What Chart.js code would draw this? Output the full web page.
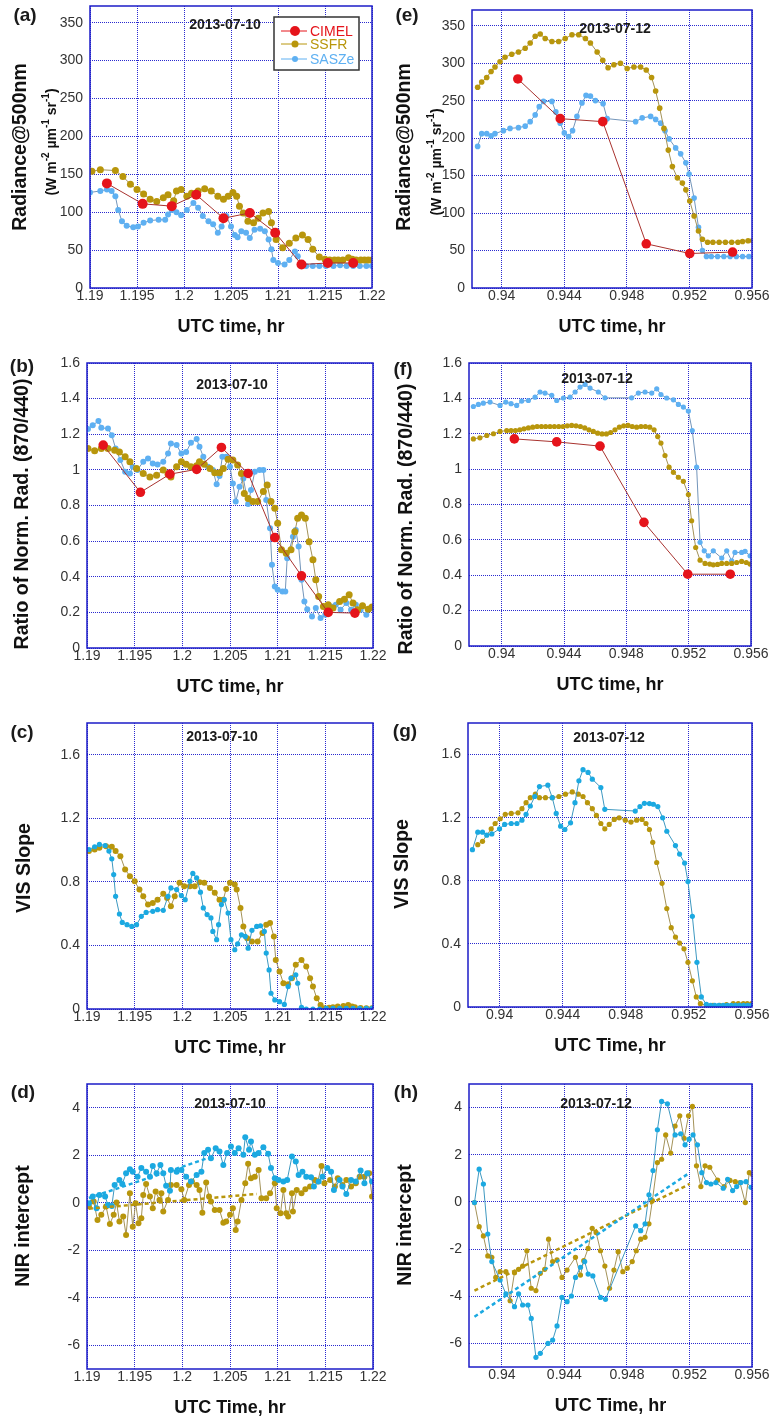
<!DOCTYPE html>
<html>
<head>
<meta charset="utf-8">
<script src="https://cdn.jsdelivr.net/npm/chart.js@4.4.0/dist/chart.umd.min.js"></script>
<style>
  body { margin: 0; background: #fff; overflow: hidden; }
  #page { position: relative; width: 771px; height: 1421px; overflow: hidden; }
  #page canvas { position: absolute; }
</style>
</head>
<body>
<div id="page"></div>
<script>
// ---- tick labels ----
const leftTicks = [1.19, 1.195, 1.2, 1.205, 1.21, 1.215, 1.22];
const rightTicks = [0.94, 0.944, 0.948, 0.952, 0.956];
const radTicks = [0, 50, 100, 150, 200, 250, 300, 350];
const ratioTicks = [0, 0.2, 0.4, 0.6, 0.8, 1, 1.2, 1.4, 1.6];
const slopeTicks = [0, 0.4, 0.8, 1.2, 1.6];
const nirTicks = [-6, -4, -2, 0, 2, 4];

// ---- (a) radiance 2013-07-10 ----
const aSsfrX = [1.1902,1.1911,1.1927,1.1935,1.1943,1.1950,1.1957,1.1964,1.1971,1.1978,1.1983,1.1989,1.1992,1.1997,1.2003,1.2008,1.2015,1.2022,1.2029,1.2036,1.2042,1.2047,1.2052,1.2056,1.2059,1.2063,1.2068,1.2074,1.2079,1.2084,1.2090,1.2093,1.2098,1.2105,1.2112,1.2119,1.2126,1.2132,1.2137,1.2144,1.2150,1.2155,1.2160,1.2164,1.2169,1.2175,1.2179,1.2183,1.2188,1.2192,1.2196,1.2200];
const aSsfrY = [154,156,155,147,137,130,124,117,114,119,123,115,128,130,121,125,128,131,128,121,117,121,126,121,108,99,88,86,92,99,101,86,64,53,59,66,70,64,51,41,38,37,37,37,37,40,38,37,37,37,37,37];
const aSasX = [1.1900,1.1911,1.1918,1.1923,1.1927,1.1930,1.1934,1.1939,1.1946,1.1951,1.1957,1.1964,1.1973,1.1980,1.1983,1.1987,1.1992,1.1997,1.2003,1.2010,1.2015,1.2020,1.2026,1.2031,1.2036,1.2040,1.2045,1.2050,1.2054,1.2057,1.2061,1.2066,1.2070,1.2075,1.2081,1.2086,1.2090,1.2093,1.2095,1.2100,1.2107,1.2112,1.2118,1.2121,1.2125,1.2130,1.2137,1.2144,1.2151,1.2159,1.2166,1.2173,1.2180,1.2187,1.2194,1.2200];
const aSasY = [126,128,130,128,121,103,88,82,80,81,86,89,90,90,97,103,100,96,103,112,106,95,88,84,73,81,95,81,70,67,75,73,66,77,78,75,64,51,37,33,31,37,48,42,33,29,29,29,29,29,30,29,29,29,29,29];
const aCimX = [1.1918,1.1956,1.1987,1.2013,1.2042,1.2070,1.2097,1.2125,1.2153,1.2180];
const aCimY = [138,111,108,123,92,99,73,31,33,33];

// ---- (e) radiance 2013-07-12 ----
const eSsfrX = [0.93846,0.93872,0.93904,0.93932,0.93957,0.93989,0.94021,0.94064,0.94107,0.94150,0.94182,0.94214,0.94246,0.94278,0.94321,0.94364,0.94406,0.94449,0.94492,0.94535,0.94567,0.94610,0.94646,0.94680,0.94717,0.94759,0.94802,0.94845,0.94888,0.94924,0.94958,0.94984,0.95010,0.95037,0.95065,0.95091,0.95123,0.95155,0.95177,0.95202,0.95230,0.95258,0.95283,0.95316,0.95350,0.95390,0.95430,0.95470,0.95510,0.95540,0.95575,0.95604];
const eSsfrY = [268,275,281,289,295,302,308,312,315,320,327,336,339,333,329,329,333,338,338,333,327,315,304,294,298,300,293,295,295,291,281,263,240,213,184,162,147,140,131,116,96,76,65,61,61,61,61,61,61,62,63,63];
const eSasX = [0.93846,0.93872,0.93904,0.93932,0.93957,0.94011,0.94053,0.94107,0.94150,0.94182,0.94214,0.94240,0.94267,0.94321,0.94346,0.94374,0.94400,0.94428,0.94453,0.94481,0.94513,0.94539,0.94567,0.94599,0.94648,0.94674,0.94856,0.94898,0.94952,0.94984,0.95016,0.95044,0.95070,0.95112,0.95144,0.95177,0.95198,0.95230,0.95258,0.95283,0.95309,0.95340,0.95380,0.95420,0.95460,0.95500,0.95540,0.95580];
const eSasY = [189,206,206,203,206,210,213,214,216,222,231,242,249,249,235,220,207,202,210,229,247,257,256,250,246,226,222,227,229,225,220,210,199,187,179,167,152,120,81,50,42,42,42,42,42,42,42,42];
const eCimX = [0.94103,0.94374,0.94646,0.94924,0.95202,0.95476];
const eCimY = [279,226,222,59,46,48];

// ---- (b) ratio 2013-07-10 ----
const bSsfrX = [1.1901,1.1908,1.1915,1.1922,1.1929,1.1934,1.1940,1.1945,1.1952,1.1959,1.1966,1.1973,1.1980,1.1985,1.1988,1.1994,1.1999,1.2004,1.2009,1.2015,1.2018,1.2023,1.2029,1.2034,1.2039,1.2043,1.2048,1.2053,1.2058,1.2062,1.2065,1.2069,1.2074,1.2079,1.2085,1.2089,1.2093,1.2097,1.2100,1.2104,1.2109,1.2114,1.2118,1.2121,1.2125,1.2129,1.2133,1.2137,1.2140,1.2143,1.2148,1.2153,1.2158,1.2165,1.2170,1.2175,1.2179,1.2184,1.2189,1.2195,1.2199];
const bSsfrY = [1.12,1.107,1.12,1.12,1.11,1.10,1.074,1.046,1.008,0.98,0.96,0.97,0.999,0.976,0.96,1.018,1.046,1.032,1.018,1.023,1.046,1.032,1.008,0.984,0.984,1.008,1.059,1.055,1.027,0.98,0.868,0.84,0.822,0.822,0.878,0.915,0.822,0.784,0.70,0.551,0.532,0.551,0.653,0.728,0.747,0.728,0.597,0.495,0.383,0.289,0.233,0.243,0.224,0.261,0.274,0.299,0.252,0.215,0.237,0.218,0.23];
const bSasX = [1.1901,1.1906,1.1912,1.1915,1.1922,1.1926,1.1930,1.1935,1.1940,1.1945,1.1948,1.1953,1.1959,1.1964,1.1969,1.1974,1.1980,1.1985,1.1988,1.1994,1.1999,1.2004,1.2009,1.2015,1.2018,1.2022,1.2027,1.2032,1.2036,1.2039,1.2042,1.2046,1.2050,1.2053,1.2056,1.2060,1.2064,1.2069,1.2072,1.2076,1.2081,1.2085,1.2088,1.2092,1.2094,1.2097,1.2100,1.2105,1.2108,1.2110,1.2116,1.2119,1.2122,1.2125,1.2128,1.2131,1.2136,1.2140,1.2145,1.2150,1.2156,1.2161,1.2166,1.2172,1.2177,1.2182,1.2187,1.2193,1.2198];
const bSasY = [1.23,1.25,1.275,1.236,1.232,1.195,1.12,1.055,0.99,0.98,1.018,1.00,1.046,1.064,1.036,1.03,1.046,1.092,1.148,1.139,1.092,1.10,1.152,1.173,1.13,1.074,1.018,0.999,0.919,0.965,1.074,1.074,1.018,0.924,0.822,0.905,0.952,0.808,0.887,0.99,0.999,0.999,0.831,0.672,0.467,0.345,0.327,0.317,0.317,0.504,0.625,0.663,0.57,0.383,0.261,0.218,0.177,0.224,0.168,0.187,0.233,0.243,0.215,0.252,0.215,0.243,0.215,0.187,0.224];
const bCimX = [1.1917,1.1956,1.1987,1.2015,1.2041,1.2069,1.2097,1.2125,1.2153,1.2181];
const bCimY = [1.139,0.874,0.976,1.003,1.126,0.98,0.62,0.405,0.20,0.196];

// ---- (f) ratio 2013-07-12 ----
const fSsfrX = [0.93818,0.9386,0.93904,0.93947,0.93989,0.94032,0.9406,0.94088,0.94116,0.94143,0.94171,0.94199,0.94227,0.94255,0.94282,0.9431,0.94338,0.94366,0.94394,0.94421,0.94449,0.94477,0.94505,0.94533,0.9456,0.94588,0.94616,0.94644,0.94672,0.94699,0.94727,0.94755,0.94783,0.94811,0.94838,0.94866,0.94894,0.94922,0.9495,0.94978,0.95001,0.95022,0.95048,0.95074,0.95102,0.95134,0.95166,0.95198,0.95219,0.95245,0.95273,0.95305,0.95335,0.95358,0.95385,0.95412,0.95444,0.95476,0.95508,0.9554,0.9557,0.95594];
const fSsfrY = [1.171,1.177,1.19,1.20,1.213,1.218,1.218,1.218,1.222,1.228,1.233,1.237,1.241,1.241,1.241,1.241,1.241,1.241,1.241,1.245,1.247,1.245,1.241,1.233,1.222,1.213,1.203,1.199,1.199,1.207,1.222,1.237,1.245,1.247,1.241,1.237,1.241,1.241,1.237,1.222,1.184,1.147,1.077,1.011,0.982,0.954,0.931,0.856,0.708,0.557,0.485,0.467,0.463,0.459,0.461,0.467,0.467,0.467,0.472,0.478,0.472,0.463];
const fSasX = [0.93818,0.9385,0.93882,0.93925,0.93989,0.94026,0.94060,0.94096,0.94128,0.94171,0.94214,0.94246,0.94278,0.94321,0.94353,0.94396,0.94439,0.94471,0.94503,0.94535,0.94567,0.94620,0.94663,0.94834,0.94877,0.94920,0.94963,0.94995,0.95022,0.95059,0.95102,0.95134,0.95166,0.95198,0.95223,0.95251,0.95273,0.95300,0.95326,0.95358,0.95412,0.95444,0.95476,0.95497,0.95540,0.95562,0.95594];
const fSasY = [1.354,1.366,1.373,1.379,1.36,1.379,1.37,1.36,1.385,1.388,1.407,1.436,1.43,1.417,1.388,1.402,1.407,1.436,1.464,1.479,1.458,1.436,1.403,1.403,1.43,1.436,1.43,1.454,1.422,1.402,1.392,1.366,1.351,1.328,1.218,1.011,0.586,0.538,0.51,0.538,0.497,0.538,0.482,0.529,0.529,0.535,0.51];
const fCimX = [0.94081,0.94353,0.94631,0.94913,0.95194,0.95467];
const fCimY = [1.171,1.154,1.13,0.699,0.406,0.406];

// ---- (c) VIS slope 2013-07-10 ----
const cSsfrX = [1.1902,1.1908,1.1913,1.1920,1.1926,1.1930,1.1935,1.1940,1.1945,1.1950,1.1955,1.1959,1.1964,1.1969,1.1974,1.1980,1.1984,1.1988,1.1992,1.1997,1.2002,1.2008,1.2013,1.2018,1.2023,1.2029,1.2034,1.2039,1.2043,1.2046,1.2050,1.2055,1.2057,1.2061,1.2064,1.2068,1.2073,1.2079,1.2084,1.2088,1.2092,1.2096,1.2098,1.2102,1.2106,1.2111,1.2115,1.2119,1.2125,1.2130,1.2134,1.2137,1.2141,1.2145,1.2149,1.2154,1.2158,1.2163,1.2169,1.2174,1.2178,1.2181,1.2187,1.2193,1.2199];
const cSsfrY = [0.994,1.004,1.015,1.025,1.021,0.994,0.962,0.878,0.836,0.804,0.752,0.709,0.657,0.667,0.688,0.726,0.699,0.646,0.709,0.794,0.773,0.773,0.773,0.798,0.794,0.762,0.731,0.688,0.688,0.756,0.794,0.783,0.752,0.636,0.52,0.446,0.425,0.425,0.478,0.531,0.541,0.457,0.309,0.236,0.162,0.156,0.194,0.278,0.309,0.267,0.194,0.141,0.067,0.025,0.004,0.008,0.011,0.015,0.019,0.025,0.015,0.011,0.006,0.004,0.004];
const cSasX = [1.1902,1.1908,1.1913,1.1919,1.1923,1.1926,1.1928,1.1930,1.1934,1.1937,1.1942,1.1947,1.1952,1.1957,1.1962,1.1969,1.1974,1.1980,1.1985,1.1988,1.1994,1.1999,1.2003,1.2008,1.2011,1.2015,1.2019,1.2022,1.2026,1.2030,1.2032,1.2036,1.2038,1.2041,1.2044,1.2048,1.2051,1.2055,1.2058,1.2062,1.2066,1.2069,1.2073,1.2078,1.2082,1.2086,1.2088,1.2091,1.2093,1.2097,1.2102,1.2107,1.2111,1.2114,1.2119,1.2121,1.2125,1.2130,1.2137,1.2144,1.2151,1.2158,1.2165,1.2172,1.2179,1.2186,1.2193,1.2199];
const cSasY = [1.004,1.021,1.036,1.029,0.994,0.945,0.846,0.709,0.598,0.545,0.531,0.52,0.531,0.583,0.608,0.615,0.625,0.621,0.709,0.762,0.752,0.714,0.688,0.804,0.853,0.825,0.735,0.636,0.594,0.573,0.488,0.436,0.531,0.657,0.688,0.604,0.436,0.373,0.41,0.467,0.457,0.383,0.495,0.52,0.524,0.488,0.352,0.246,0.099,0.057,0.046,0.029,0.141,0.194,0.215,0.162,0.011,0,0,0,0.004,0.004,0.004,0.004,0.004,0.004,0.004,0.004];

// ---- (g) VIS slope 2013-07-12 ----
const gSsfrX = [0.93862,0.93892,0.93947,0.93972,0.94004,0.94036,0.94074,0.94117,0.94142,0.94168,0.94195,0.94227,0.94253,0.94291,0.94334,0.94376,0.94418,0.94461,0.94499,0.94529,0.94557,0.94588,0.94614,0.94642,0.94667,0.94695,0.94727,0.94758,0.94797,0.94833,0.94869,0.94903,0.94928,0.94950,0.94971,0.94996,0.95030,0.95060,0.95088,0.95115,0.95141,0.95169,0.95194,0.95222,0.95247,0.95273,0.95311,0.95353,0.95396,0.95438,0.95481,0.95513,0.95545,0.95570,0.95598];
const gSsfrY = [1.029,1.05,1.129,1.163,1.193,1.221,1.227,1.231,1.257,1.295,1.327,1.349,1.327,1.327,1.327,1.334,1.349,1.363,1.349,1.334,1.295,1.257,1.214,1.163,1.129,1.157,1.189,1.199,1.184,1.172,1.184,1.189,1.163,1.125,1.044,0.916,0.784,0.624,0.503,0.443,0.405,0.369,0.283,0.166,0.064,0.021,0.011,0.011,0.011,0.016,0.021,0.021,0.021,0.021,0.021];
const gSasX = [0.93828,0.93862,0.93892,0.93919,0.93951,0.94,0.94032,0.94074,0.94110,0.94142,0.94168,0.94195,0.94223,0.94253,0.94306,0.94334,0.94359,0.94387,0.94414,0.94450,0.94478,0.94503,0.94529,0.94561,0.94588,0.94642,0.94667,0.94860,0.94890,0.94918,0.94950,0.94975,0.95003,0.95034,0.95060,0.95115,0.95141,0.95173,0.95194,0.95222,0.95251,0.95279,0.95311,0.95338,0.95364,0.9539,0.95417,0.95443,0.95469,0.95495,0.95521,0.95547,0.95573,0.95598];
const gSasY = [0.997,1.108,1.108,1.089,1.097,1.129,1.157,1.163,1.163,1.184,1.221,1.274,1.334,1.397,1.406,1.327,1.227,1.146,1.125,1.167,1.295,1.434,1.504,1.487,1.444,1.391,1.253,1.242,1.27,1.291,1.289,1.285,1.27,1.199,1.114,1.023,0.969,0.912,0.795,0.575,0.283,0.064,0.017,0.011,0.011,0.011,0.011,0.011,0.011,0.011,0.011,0.011,0.011,0.011];

// ---- (d) NIR intercept 2013-07-10 ----
const dSsfrX = [1.1902,1.1907,1.1911,1.1915,1.1920,1.1924,1.1928,1.1931,1.1934,1.1938,1.1941,1.1945,1.1948,1.1951,1.1954,1.1957,1.1959,1.1962,1.1966,1.1969,1.1972,1.1976,1.1978,1.1980,1.1985,1.1988,1.1994,1.1999,1.2002,1.2007,1.2010,1.2015,1.2018,1.2021,1.2025,1.2028,1.2030,1.2034,1.2039,1.2043,1.2046,1.2050,1.2053,1.2056,1.2058,1.2062,1.2066,1.2069,1.2072,1.2076,1.2080,1.2083,1.2088,1.2092,1.2097,1.2099,1.2103,1.2106,1.2109,1.2111,1.2115,1.2116,1.2120,1.2125,1.2129,1.2134,1.2139,1.2142,1.2146,1.2149,1.2155,1.2160,1.2163,1.2168,1.2172,1.2177,1.2182,1.2186,1.2191,1.2196,1.2199];
const dSsfrY = [-0.16,0.05,-0.73,-0.51,-0.16,-0.89,-0.51,0.01,-0.79,-0.58,-1.36,0.40,-1.01,-0.02,-0.86,-0.65,0.33,0.79,0.26,-0.23,0.47,0.12,0.40,-0.37,0.12,0.75,0.75,0.57,0.12,0.75,0.89,0.75,0.54,-0.42,0.85,0.26,0.05,-0.30,-0.30,-0.84,-0.79,-0.51,-0.23,-1.15,-0.79,0.12,0.82,1.64,1.03,1.10,1.38,0.19,0.19,0.40,0.82,-0.23,-0.44,0.54,-0.44,-0.58,0.40,-0.37,0.54,0.40,0.57,0.68,0.96,0.89,1.55,0.82,0.96,0.68,1.03,0.75,0.96,0.68,0.82,1.10,1.10,1.24,0.26];
const dSasX = [1.1902,1.1906,1.1910,1.1913,1.1919,1.1922,1.1926,1.1929,1.1934,1.1937,1.1941,1.1945,1.1948,1.1953,1.1957,1.1962,1.1966,1.1969,1.1973,1.1977,1.1980,1.1983,1.1987,1.1988,1.1994,1.1999,1.2004,1.2009,1.2015,1.2020,1.2023,1.2027,1.2030,1.2035,1.2039,1.2043,1.2047,1.2051,1.2055,1.2059,1.2064,1.2066,1.2070,1.2072,1.2076,1.2080,1.2085,1.2090,1.2093,1.2097,1.2101,1.2106,1.2110,1.2115,1.2119,1.2122,1.2126,1.2130,1.2135,1.2138,1.2143,1.2147,1.2152,1.2156,1.2159,1.2165,1.2168,1.2172,1.2177,1.2182,1.2187,1.2191,1.2194,1.2199];
const dSasY = [-0.02,0.26,-0.23,0.33,0.26,-0.09,-0.14,0.75,0.96,0.79,1.24,1.41,1.31,1.10,1.46,1.31,1.10,1.55,1.24,1.59,1.24,0.72,0.51,1.38,1.31,1.38,1.10,0.89,1.17,1.31,2.09,2.23,1.87,2.30,2.16,1.59,2.09,2.37,2.09,2.30,2.02,2.76,2.23,2.58,2.02,2.09,2.34,2.06,1.46,1.03,0.96,0.89,0.96,1.95,1.74,1.17,1.31,1.10,1.07,0.68,0.89,1.10,1.46,1.31,0.54,0.96,0.68,0.37,0.96,0.89,1.36,0.82,1.24,0.89];
const dFitSasX = [1.1902, 1.2032];
const dFitSasY = [0.2, 1.95];
const dFitSsfrX = [1.1902, 1.2078];
const dFitSsfrY = [-0.25, 0.37];

// ---- (h) NIR intercept 2013-07-12 ----
const hSsfrX = [0.93825,0.93855,0.93882,0.9391,0.93936,0.93961,0.93989,0.94026,0.94053,0.94081,0.94107,0.94133,0.9416,0.94188,0.94218,0.94246,0.94274,0.94299,0.94325,0.94353,0.94385,0.94417,0.94471,0.94503,0.94524,0.94552,0.94578,0.94603,0.94631,0.94659,0.94689,0.94717,0.94744,0.94774,0.94802,0.94834,0.9486,0.94888,0.94916,0.94941,0.94963,0.94995,0.95022,0.95048,0.9508,0.95108,0.95138,0.95166,0.95194,0.95219,0.95245,0.95273,0.953,0.9533,0.9538,0.95422,0.95459,0.95493,0.95523,0.95557,0.95583,0.95604];
const hSsfrY = [-0.03,-1.05,-1.44,-2.29,-2.35,-3.20,-2.96,-2.96,-4.19,-3.0,-2.86,-2.72,-2.07,-3.66,-3.76,-3.03,-2.86,-1.58,-2.53,-2.46,-3.20,-2.89,-2.35,-3.10,-2.49,-1.97,-1.12,-1.30,-2.07,-2.72,-3.66,-2.89,-2.11,-2.96,-2.81,-2.53,-2.07,-1.58,-1.50,-0.93,0.06,1.67,1.81,2.84,2.07,3.22,3.65,2.70,3.65,4.05,1.53,0.65,1.53,1.47,0.93,0.65,0.91,0.86,0.82,-0.03,1.24,1.15];
const hSasX = [0.93825,0.93855,0.93882,0.9391,0.93936,0.93989,0.94026,0.94081,0.94107,0.94133,0.94167,0.94188,0.94218,0.94246,0.94295,0.94325,0.94353,0.94385,0.94417,0.94445,0.94471,0.94503,0.9453,0.94552,0.94582,0.94631,0.94663,0.94856,0.94888,0.94916,0.94941,0.94967,0.94995,0.95022,0.95059,0.95108,0.95144,0.95172,0.95198,0.95223,0.95251,0.95279,0.95309,0.95337,0.95369,0.95416,0.95444,0.95476,0.95502,0.95529,0.95562,0.95594];
const hSasY = [-0.03,1.39,0.76,-1.36,-2.53,-3.31,-3.90,-4.44,-3.90,-4.37,-4.37,-4.94,-6.59,-6.42,-6.0,-5.86,-5.26,-4.05,-4.23,-3.99,-3.20,-2.77,-2.53,-3.06,-3.14,-4.05,-4.13,-1.02,-1.22,-0.93,0.30,1.33,3.06,4.26,4.16,2.84,2.89,2.42,2.66,2.84,2.42,1.24,0.82,0.76,0.82,0.58,0.96,0.48,0.65,0.82,0.86,0.62];
const hFitX = [0.93825, 0.95202];
const hFitSasY = [-4.87, 1.24];
const hFitSsfrY = [-3.76, 0.76];

// ---- look ----
const FONT = '"Liberation Sans", Arial, Helvetica, sans-serif';
Chart.defaults.font.family = FONT;
Chart.defaults.color = '#333';

const RED = '#e5141b', RED_LINE = '#a8322e';
const GOLD = '#b8960c', GOLD_LINE = '#a39258';
const SKY = '#5eb0f2', SKY_LINE = '#7395ba';
const CYAN = '#1ba9e1', CYAN_LINE = '#3d98c0';
const GRID = '#2a2ad0', FRAME = '#1c1cc8';

function pts(xs, ys) { return xs.map((x, i) => ({ x: x, y: ys[i] })); }

function series(label, xs, ys, dot, line, r) {
  return {
    label: label, data: pts(xs, ys), showLine: true, tension: 0,
    borderColor: line, borderWidth: 1, backgroundColor: dot,
    pointBackgroundColor: dot, pointBorderWidth: 0,
    pointRadius: r, pointHoverRadius: r, inLegend: true
  };
}

function fitLine(xs, ys, color) {
  return {
    label: 'fit', data: pts(xs, ys), showLine: true, tension: 0,
    borderColor: color, borderWidth: 2.5, borderDash: [4, 3], pointRadius: 0
  };
}

function fmt(v) { return String(+Number(v).toFixed(4)); }

// superscripted unit line, rotated like the y title
function drawUnits(ctx, cx, cy) {
  const parts = [['(W m', 0], ['-2', 1], [' \u00b5m', 0], ['-1', 1], [' sr', 0], ['-1', 1], [')', 0]];
  const big = 'bold 14px ' + FONT, small = 'bold 10px ' + FONT;
  ctx.save();
  ctx.translate(cx, cy);
  ctx.rotate(-Math.PI / 2);
  let total = 0;
  parts.forEach(p => { ctx.font = p[1] ? small : big; total += ctx.measureText(p[0]).width; });
  let x = -total / 2;
  ctx.textAlign = 'left';
  ctx.textBaseline = 'middle';
  ctx.fillStyle = '#111';
  parts.forEach(p => {
    ctx.font = p[1] ? small : big;
    ctx.fillText(p[0], x, p[1] ? -6 : 0);
    x += ctx.measureText(p[0]).width;
  });
  ctx.restore();
}

function drawLegend(chart, box) {
  const ctx = chart.ctx;
  ctx.fillStyle = '#fff';
  ctx.fillRect(box.x, box.y, box.w, box.h);
  ctx.strokeStyle = '#333';
  ctx.lineWidth = 1.5;
  ctx.strokeRect(box.x, box.y, box.w, box.h);
  const items = chart.data.datasets.filter(d => d.inLegend);
  const rows = [14, 27, 42];
  ctx.font = '14px ' + FONT;
  ctx.textAlign = 'left';
  ctx.textBaseline = 'middle';
  items.forEach((d, i) => {
    const y = box.y + rows[i];
    ctx.strokeStyle = d.pointBackgroundColor;
    ctx.lineWidth = 1;
    ctx.beginPath();
    ctx.moveTo(box.x + 7, y);
    ctx.lineTo(box.x + 33, y);
    ctx.stroke();
    ctx.fillStyle = d.pointBackgroundColor;
    ctx.beginPath();
    ctx.arc(box.x + 21, y, d.pointRadius, 0, Math.PI * 2);
    ctx.fill();
    ctx.fillText(d.label, box.x + 36, y + 1);
  });
}

const decor = {
  id: 'decor',
  afterDraw(chart, args, o) {
    const { ctx, chartArea: a } = chart;
    const ox = o.ox, oy = o.oy;
    ctx.save();
    ctx.strokeStyle = FRAME;
    ctx.lineWidth = 1.5;
    ctx.strokeRect(a.left, a.top, a.right - a.left, a.bottom - a.top);
    ctx.fillStyle = '#1a1a1a';
    ctx.textAlign = 'center';
    ctx.textBaseline = 'middle';
    ctx.font = 'bold 19px ' + FONT;
    ctx.fillText(o.letter[0], o.letter[1] - ox, o.letter[2] - oy);
    ctx.font = 'bold 14px ' + FONT;
    ctx.fillText(o.date[0], o.date[1] - ox, o.date[2] - oy);
    // rotated y-axis title
    ctx.save();
    ctx.translate(o.ytitle[1] - ox, o.ytitle[2] - oy);
    ctx.rotate(-Math.PI / 2);
    ctx.fillStyle = '#111';
    ctx.font = 'bold 19.5px ' + FONT;
    ctx.fillText(o.ytitle[0], 0, 0);
    ctx.restore();
    if (o.units) drawUnits(ctx, o.units[0] - ox, o.units[1] - oy);
    if (o.legend) drawLegend(chart, { x: o.legend[0] - ox, y: o.legend[1] - oy, w: o.legend[2], h: o.legend[3] });
    ctx.restore();
  }
};

const COLS = { left: { x: 0, w: 400 }, right: { x: 385, w: 400 } };
const ROWS = [{ y: -20, h: 365 }, { y: 345, h: 355 }, { y: 700, h: 360 }, { y: 1060, h: 361 }];

function panel(p) {
  const col = COLS[p.col], row = ROWS[p.row];
  const cv = document.createElement('canvas');
  cv.width = col.w; cv.height = row.h;
  cv.style.left = col.x + 'px'; cv.style.top = row.y + 'px';
  cv.style.width = col.w + 'px'; cv.style.height = row.h + 'px';
  document.getElementById('page').appendChild(cv);

  const xLh = 18 * 1.2;
  const bottomH = row.y + row.h - p.plot.B;
  const leftW = p.plot.L - col.x;

  new Chart(cv, {
    type: 'scatter',
    data: { datasets: p.datasets },
    options: {
      responsive: false, animation: false, devicePixelRatio: 1,
      layout: { padding: { left: 0, bottom: 0, top: p.plot.T - row.y, right: col.x + col.w - p.plot.R } },
      plugins: {
        legend: { display: false }, tooltip: { enabled: false },
        decor: Object.assign({ ox: col.x, oy: row.y }, p.decor)
      },
      scales: {
        x: {
          type: 'linear', min: p.x.min, max: p.x.max,
          afterBuildTicks: s => { s.ticks = p.x.ticks.map(v => ({ value: v })); },
          afterFit: s => { s.height = bottomH; },
          ticks: { autoSkip: false, maxRotation: 0, padding: 0, color: '#333', font: { size: 14 }, callback: fmt },
          grid: { color: GRID, lineWidth: 1, drawTicks: false },
          border: { display: false, dash: [1, 1] },
          title: {
            display: true, text: p.x.title, color: '#111',
            font: { size: 18, weight: 'bold' },
            padding: { top: 0, bottom: row.y + row.h - (p.plot.B + 39) - xLh / 2 }
          }
        },
        y: {
          type: 'linear', min: p.y.min, max: p.y.max,
          afterBuildTicks: s => { s.ticks = p.y.ticks.map(v => ({ value: v })); },
          afterFit: s => { s.width = leftW; },
          ticks: { autoSkip: false, padding: 7, color: '#333', font: { size: 14 }, callback: fmt },
          grid: { color: GRID, lineWidth: 1, drawTicks: false },
          border: { display: false, dash: [1, 1] },
          title: { display: false }
        }
      }
    },
    plugins: [decor]
  });
}

// ---- panels ----
panel({
  col: 'left', row: 0, plot: { L: 90, R: 372, T: 6, B: 288 },
  x: { min: 1.19, max: 1.22, ticks: leftTicks, title: 'UTC time, hr' },
  y: { min: 0, max: 372, ticks: radTicks },
  datasets: [
    series('CIMEL', aCimX, aCimY, RED, RED_LINE, 5),
    series('SSFR', aSsfrX, aSsfrY, GOLD, GOLD_LINE, 3.5),
    series('SASZe', aSasX, aSasY, SKY, SKY_LINE, 3)
  ],
  decor: { letter: ['(a)', 25, 16], date: ['2013-07-10', 225, 25], ytitle: ['Radiance@500nm', 21, 147],
           units: [52, 142], legend: [274, 17, 85, 53] }
});

panel({
  col: 'right', row: 0, plot: { L: 472, R: 752, T: 10, B: 288 },
  x: { min: 0.9381, max: 0.956, ticks: rightTicks, title: 'UTC time, hr' },
  y: { min: 0, max: 371, ticks: radTicks },
  datasets: [
    series('CIMEL', eCimX, eCimY, RED, RED_LINE, 4.8),
    series('SSFR', eSsfrX, eSsfrY, GOLD, GOLD_LINE, 2.8),
    series('SASZe', eSasX, eSasY, SKY, SKY_LINE, 2.8)
  ],
  decor: { letter: ['(e)', 407, 16], date: ['2013-07-12', 615, 29], ytitle: ['Radiance@500nm', 405, 147],
           units: [437, 162] }
});

panel({
  col: 'left', row: 1, plot: { L: 87, R: 373, T: 363, B: 648 },
  x: { min: 1.19, max: 1.22, ticks: leftTicks, title: 'UTC time, hr' },
  y: { min: 0, max: 1.6, ticks: ratioTicks },
  datasets: [
    series('CIMEL', bCimX, bCimY, RED, RED_LINE, 4.8),
    series('SSFR', bSsfrX, bSsfrY, GOLD, GOLD_LINE, 3.5),
    series('SASZe', bSasX, bSasY, SKY, SKY_LINE, 3)
  ],
  decor: { letter: ['(b)', 22, 367], date: ['2013-07-10', 232, 385],
           ytitle: ['Ratio of Norm. Rad. (870/440)', 22.5, 514] }
});

panel({
  col: 'right', row: 1, plot: { L: 469, R: 751, T: 363, B: 646 },
  x: { min: 0.9379, max: 0.956, ticks: rightTicks, title: 'UTC time, hr' },
  y: { min: 0, max: 1.6, ticks: ratioTicks },
  datasets: [
    series('CIMEL', fCimX, fCimY, RED, RED_LINE, 4.8),
    series('SSFR', fSsfrX, fSsfrY, GOLD, GOLD_LINE, 2.6),
    series('SASZe', fSasX, fSasY, SKY, SKY_LINE, 2.6)
  ],
  decor: { letter: ['(f)', 403, 370], date: ['2013-07-12', 597, 379],
           ytitle: ['Ratio of Norm. Rad. (870/440)', 407, 519] }
});

panel({
  col: 'left', row: 2, plot: { L: 87, R: 373, T: 723, B: 1009 },
  x: { min: 1.19, max: 1.22, ticks: leftTicks, title: 'UTC Time, hr' },
  y: { min: 0, max: 1.8, ticks: slopeTicks },
  datasets: [
    series('SASZe', cSasX, cSasY, CYAN, CYAN_LINE, 2.6),
    series('SSFR', cSsfrX, cSsfrY, GOLD, GOLD_LINE, 3)
  ],
  decor: { letter: ['(c)', 22, 733], date: ['2013-07-10', 222, 737], ytitle: ['VIS Slope', 25, 868] }
});

panel({
  col: 'right', row: 2, plot: { L: 468, R: 752, T: 723, B: 1007 },
  x: { min: 0.938, max: 0.956, ticks: rightTicks, title: 'UTC Time, hr' },
  y: { min: 0, max: 1.8, ticks: slopeTicks },
  datasets: [
    series('SASZe', gSasX, gSasY, CYAN, CYAN_LINE, 2.6),
    series('SSFR', gSsfrX, gSsfrY, GOLD, GOLD_LINE, 2.6)
  ],
  decor: { letter: ['(g)', 405, 732], date: ['2013-07-12', 609, 738], ytitle: ['VIS Slope', 403, 864] }
});

panel({
  col: 'left', row: 3, plot: { L: 87, R: 373, T: 1084, B: 1369 },
  x: { min: 1.19, max: 1.22, ticks: leftTicks, title: 'UTC Time, hr' },
  y: { min: -7, max: 5, ticks: nirTicks },
  datasets: [
    fitLine(dFitSasX, dFitSasY, CYAN),
    fitLine(dFitSsfrX, dFitSsfrY, GOLD),
    series('SASZe', dSasX, dSasY, CYAN, CYAN_LINE, 3),
    series('SSFR', dSsfrX, dSsfrY, GOLD, GOLD_LINE, 3)
  ],
  decor: { letter: ['(d)', 23, 1093], date: ['2013-07-10', 230, 1104], ytitle: ['NIR intercept', 24, 1226] }
});

panel({
  col: 'right', row: 3, plot: { L: 469, R: 752, T: 1084, B: 1367 },
  x: { min: 0.9379, max: 0.956, ticks: rightTicks, title: 'UTC Time, hr' },
  y: { min: -7, max: 5, ticks: nirTicks },
  datasets: [
    fitLine(hFitX, hFitSasY, CYAN),
    fitLine(hFitX, hFitSsfrY, GOLD),
    series('SASZe', hSasX, hSasY, CYAN, CYAN_LINE, 2.6),
    series('SSFR', hSsfrX, hSsfrY, GOLD, GOLD_LINE, 2.6)
  ],
  decor: { letter: ['(h)', 406, 1093], date: ['2013-07-12', 596, 1104], ytitle: ['NIR intercept', 406, 1225] }
});
</script>
</body>
</html>
